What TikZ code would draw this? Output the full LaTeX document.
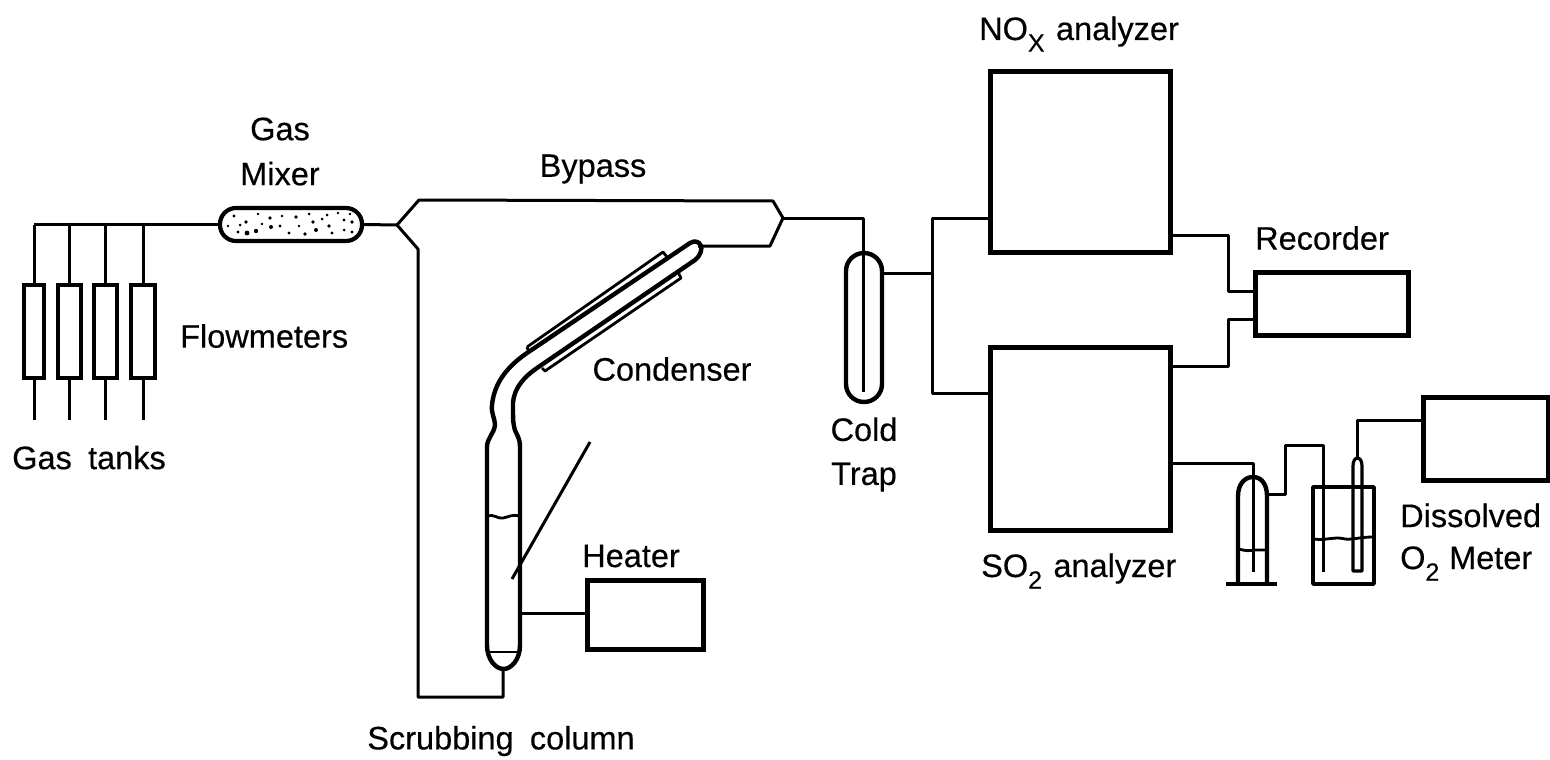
\documentclass[tikz,border=0pt]{standalone}
\usepackage{fontspec}
\setmainfont[FakeBold=0.35]{Liberation Sans}
\newcommand{\lowsub}[1]{\raisebox{-0.36em}{\fontsize{25pt}{25pt}\selectfont #1}}
\tikzset{
  box/.style={draw=black,line width=5pt,rectangle,inner sep=0pt,fill=none},
  fmeter/.style={draw=black,line width=4pt,rectangle,inner sep=0pt,minimum height=93pt},
  pipe/.style={draw=black,line width=3pt,line join=round},
  glass/.style={draw=black,line width=4.4pt,line join=round},
  thin glass/.style={draw=black,line width=2.8pt,line join=round},
  lbl/.style={font=\fontsize{32.5pt}{39pt}\selectfont,inner sep=0pt,text=black,align=center},
}
\begin{document}
\begin{tikzpicture}[x=1pt,y=-1pt]
\useasboundingbox (0,0) rectangle (1550,760);
% boxes
\node[box,minimum width=180pt,minimum height=180pt] (nox) at (1080,162) {};
\node[box,minimum width=180pt,minimum height=183pt] (so2) at (1080,438.5) {};
\node[box,minimum width=153pt,minimum height=63pt] (rec) at (1331.5,303.5) {};
\node[box,minimum width=116pt,minimum height=69pt] (heat) at (645,614.5) {};
\node[box,minimum width=125pt,minimum height=83pt] (meter) at (1485.5,438.5) {};
% flowmeters
\node[fmeter,minimum width=20pt] (fm1) at (34,331.5) {};
\node[fmeter,minimum width=23pt] (fm2) at (69.5,331.5) {};
\node[fmeter,minimum width=23pt] (fm3) at (105.5,331.5) {};
\node[fmeter,minimum width=24pt] (fm4) at (143,331.5) {};
% mixer
\node[draw=black,line width=4.2pt,rectangle,rounded corners=16pt,minimum width=142pt,minimum height=33pt,inner sep=0pt] (mix) at (291,224.5) {};
\foreach \a/\b/\r in {234/216/1.6,246/222/1.9,238/232/1.6,247/233/2.4,256/231/2.2,258/214/1.4,270/218/1.8,271/227/2.0,282/216/1.4,280/226/1.6,289/233/1.7,296/217/1.9,299/226/1.4,309/214/1.5,313/222/1.8,316/230/2.0,327/215/1.5,329/226/1.9,332/233/1.6,338/213/1.4,344/220/1.7,344/230/1.5,352/222/1.9,350/214/1.4,352/232/1.7,262/224/1.4,305/234/1.8,322/219/1.5,228/226/1.3,240/225/1.5}
  \fill[black] (\a,\b) circle (\r pt);
% named points
\coordinate (jl) at (397,225);
\coordinate (jr) at (783,218);
\coordinate (condtop) at (698,246);
\foreach \i in {1,2,3,4} {
  \coordinate (tank\i) at (fm\i.south |- 0,420);
  \draw[pipe] (fm\i.north) -- (fm\i.north |- mix.west);
  \draw[pipe] (fm\i.south) -- (tank\i);
}
\draw[pipe] (fm1.north |- mix.west) -- (mix.west);
\draw[pipe] (mix.east) -- (jl);
% bypass
\draw[pipe] (jl) -- (419,200) -- (773,201) -- (jr) -- (770,246) -- (condtop);
% return from column
\coordinate (colbot) at (503,669);
\draw[pipe] (jl) -- (418,249) -- (418,697) -| (colbot);
% column with condenser tube
\draw[glass] (487,645) -- (487,447) .. controls (487,438) and (494,434) .. (495,425)
  .. controls (495,418) and (491,414) .. (492,405) .. controls (494,385) and (505,368) .. (527,353)
  -- (690,243) .. controls (700,237) and (707,250) .. (695,260) -- (537,368)
  .. controls (518,381) and (512,395) .. (513,408) .. controls (513,416) and (513,422) .. (514,426)
  .. controls (515,434) and (520,436) .. (520,447) -- (520,645)
  .. controls (520,660) and (511,669) .. (503.5,669) .. controls (496,669) and (487,660) .. (487,645);
\draw[thin glass] (487,652) -- (520,652);
\draw[thin glass] (488,516) .. controls (495,514) and (497,519) .. (503,518) .. controls (509,517) and (512,514) .. (519,516);
% jacket
\draw[thin glass] (527,347) -- (663,252) -- (667,257);
\draw[thin glass] (527,347) -- (529,352);
\draw[thin glass] (542,368) -- (545,371) -- (681,278) -- (678,272);
% stirrer line
\coordinate (stirtop) at (590,442);
\coordinate (stirend) at (512,579);
\draw[pipe] (stirtop) -- (stirend);
% heater connection
\draw[pipe] (520,613) -- (heat.west |- 520,613);
% cold trap
\coordinate (trapin) at (863,253);
\draw[pipe] (jr) -- (863,218) -- (trapin) -- (863,392);
\draw[glass] (846,271) .. controls (846,261) and (854,253) .. (864,253) .. controls (874,253) and (882,261) .. (882,271)
  -- (882,384) .. controls (882,394) and (874,402) .. (864,402) .. controls (854,402) and (846,394) .. (846,384) -- cycle;
\coordinate (split) at (932,273);
\draw[pipe] (882,273) -- (split);
\draw[pipe] (nox.west |- 0,218) -| (split);
\draw[pipe] (split) |- (so2.west |- 0,393);
% recorder connections
\draw[pipe] (nox.east |- 0,235) -- ++(56,0) |- (rec.west |- 0,291);
\draw[pipe] (so2.east |- 0,366) -- ++(56,0) |- (rec.west |- 0,319);
% bubbler
\draw[pipe] (so2.east |- 0,463) -| (1253,572);
\draw[glass] (1238,584) -- (1238,496) .. controls (1238,485) and (1244,477) .. (1253,477) .. controls (1262,477) and (1267,485) .. (1267,496) -- (1267,584);
\draw[glass] (1226,584) -- (1277,584);
\draw[thin glass] (1239,549) .. controls (1245,551) and (1250,551) .. (1255,550) -- (1266,550);
\draw[pipe] (1267,494) -| (1285,445) -| (1323,572);
% beaker
\draw[thin glass,line width=3.6pt] (1313,487) rectangle (1374,584);
\draw[thin glass] (1314,539) .. controls (1325,541) and (1335,536) .. (1345,539) .. controls (1352,540) and (1360,537) .. (1373,537);
% electrode
\draw[thin glass,line width=3.2pt] (1353,571) -- (1353,466) .. controls (1353,461) and (1355,458) .. (1357.5,458) .. controls (1360,458) and (1362,461) .. (1362,466) -- (1362,571) -- cycle;
\draw[pipe] (1357,458) |- (meter.west |- 0,420);
% labels
\node[lbl] (lgt) at (89,457.5) {Gas\hspace{0.5em}tanks};
\node[lbl,anchor=west] (lfm) at (180,336) {Flowmeters};
\node[lbl] (lgm) at (280,151.5) {Gas\\[6pt]Mixer};
\node[lbl] (lby) at (593,169) {Bypass};
\node[lbl] (lco) at (672,369) {Condenser};
\node[lbl] (lct) at (864,454.5) {Cold\\[5pt]Trap};
\node[lbl] (lhe) at (631,556) {Heater};
\node[lbl] (lsc) at (501,741) {Scrubbing\hspace{0.5em}column};
\node[lbl,anchor=base west] (lno) at (979,40) {NO\lowsub{X}\hspace{0.35em}analyzer};
\node[lbl,anchor=base west] (lso) at (981,577) {SO\lowsub{2}\hspace{0.35em}analyzer};
\node[lbl] (lre) at (1322,238) {Recorder};
\node[lbl,anchor=base west] (ldo) at (1400,527) {Dissolved};
\node[lbl,anchor=base west] (ldp) at (1400,569) {O\lowsub{2}\hspace{0.3em}Meter};
\end{tikzpicture}
\end{document}
